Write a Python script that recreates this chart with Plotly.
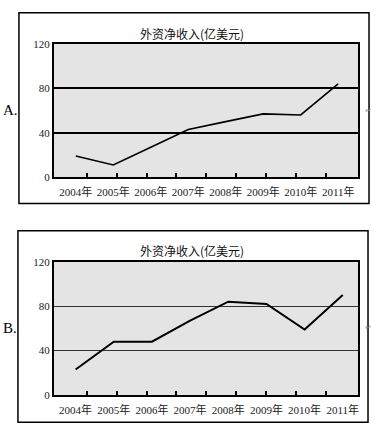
import plotly.graph_objects as go

years = ["2004年", "2005年", "2006年", "2007年", "2008年", "2009年", "2010年", "2011年"]
values_a = [19, 11, 27, 43, 50, 57, 56, 84]
values_b = [23, 48, 48, 67, 84, 82, 59, 90]
y_ticks = [0, 40, 80, 120]
title_text = "外资净收入(亿美元)"
panel_labels = ["A.", "B."]

W, H = 376, 435
def px(x):
    return x / W
def py(y):
    return 1 - y / H

serif = "Liberation Serif, Noto Sans CJK SC, serif"
cjk = "Noto Sans CJK SC, sans-serif"

fig = go.Figure()
fig.add_trace(go.Scatter(x=years, y=values_a, mode="lines", xaxis="x", yaxis="y",
                         line=dict(color="black", width=1.6), showlegend=False, hoverinfo="skip"))
fig.add_trace(go.Scatter(x=years, y=values_b, mode="lines", xaxis="x3", yaxis="y3",
                         line=dict(color="black", width=2), showlegend=False, hoverinfo="skip"))
# empty traces so the tick-mark overlay axes exist
fig.add_trace(go.Scatter(x=[], y=[], xaxis="x2", yaxis="y", showlegend=False))
fig.add_trace(go.Scatter(x=[], y=[], xaxis="x4", yaxis="y3", showlegend=False))

def yax(domain, gw, gc):
    return dict(domain=domain, range=[0, 120], tickvals=y_ticks, showgrid=True,
                gridcolor=gc, gridwidth=gw, zeroline=False, showline=True, mirror=True,
                linecolor="black", linewidth=2, ticks="", fixedrange=True,
                tickfont=dict(family=serif, size=11, color="#222"))

def xax(domain, anchor, rng):
    return dict(domain=domain, anchor=anchor, type="category", range=rng, showgrid=False,
                zeroline=False, showline=True, mirror=True, linecolor="black", linewidth=2,
                ticks="", tickfont=dict(family=serif, size=11, color="#222"), ticklabelstandoff=4)

def tickax(domain, anchor, over):
    return dict(domain=domain, anchor=anchor, overlaying=over, range=[-0.1, 10.07],
                tickvals=list(range(1, 10)), showticklabels=False, ticks="inside",
                ticklen=4, tickwidth=1.5, tickcolor="black", showgrid=False, zeroline=False,
                showline=False)

xd = [px(54), px(359)]
fig.update_layout(
    width=W, height=H, margin=dict(l=0, r=0, t=0, b=0),
    paper_bgcolor="white", plot_bgcolor="#e4e4e4",
    xaxis=xax(xd, "y", [-0.586, 7.53]),
    yaxis=yax([py(176), py(39)], 2, "black"),
    xaxis2=tickax(xd, "y", "x"),
    xaxis3=xax(xd, "y3", [-0.57, 7.4]),
    yaxis3=yax([py(400), py(263)], 1, "#333"),
    xaxis4=tickax(xd, "y3", "x3"),
)

shapes = [
    dict(type="rect", xref="paper", yref="paper", x0=px(19), x1=px(370), y0=py(203), y1=py(7),
         line=dict(color="black", width=1.5)),
    dict(type="rect", xref="paper", yref="paper", x0=px(18), x1=px(369), y0=py(428), y1=py(231),
         line=dict(color="black", width=1.5)),
]
fig.update_layout(shapes=shapes)

ann = []
for ty in (28, 251):
    ann.append(dict(text=title_text, xref="paper", yref="paper", x=px(193), y=py(ty),
                    showarrow=False, xanchor="center", yanchor="middle",
                    font=dict(family=cjk, size=12, color="#111")))
for lab, ly in zip(panel_labels, (107, 331)):
    ann.append(dict(text=lab, xref="paper", yref="paper", x=px(1), y=py(ly), showarrow=False,
                    xanchor="left", yanchor="middle", font=dict(family=serif, size=15, color="black")))
    ann.append(dict(text="↵", xref="paper", yref="paper", x=px(375), y=py(ly), showarrow=False,
                    xanchor="right", yanchor="middle", font=dict(family=serif, size=8, color="#999")))
fig.update_layout(annotations=ann)

fig.write_html("out.html", config={"displayModeBar": False},
               post_script="document.body.style.margin='0';document.body.style.overflow='hidden';")
